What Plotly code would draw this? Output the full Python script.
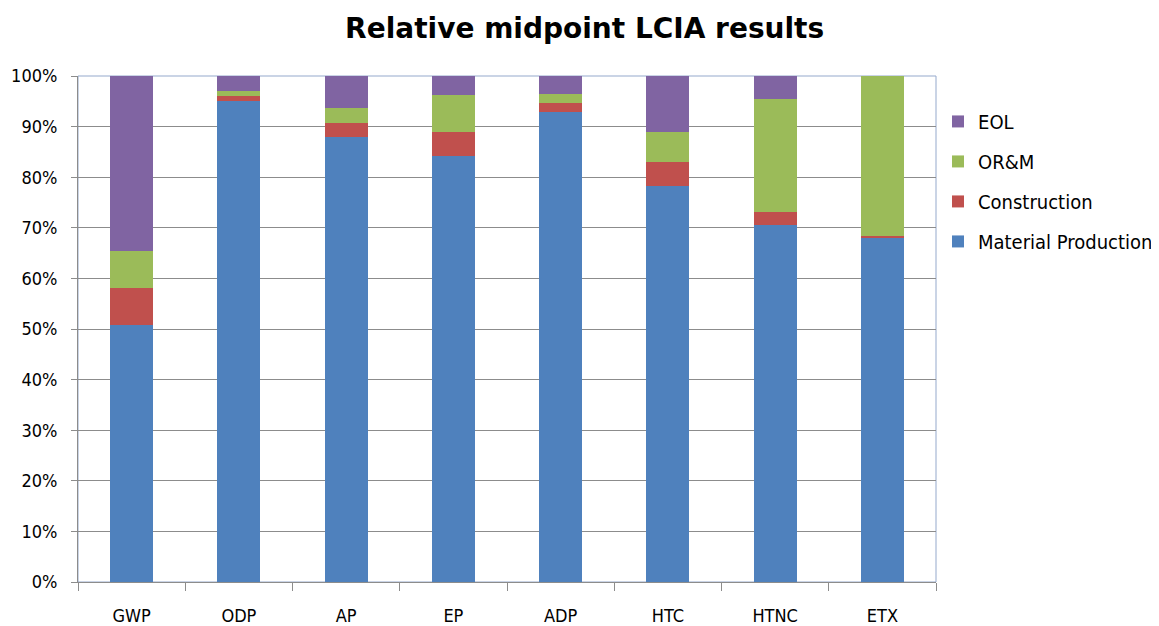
import plotly.graph_objects as go

# impact categories and stage shares (percent of total)
categories = ['GWP', 'ODP', 'AP', 'EP', 'ADP', 'HTC', 'HTNC', 'ETX']
material_production = [50.8, 95.1, 87.9, 84.2, 92.8, 78.3, 70.6, 67.9]
construction = [7.4, 1.0, 2.8, 4.8, 1.8, 4.8, 2.6, 0.4]
orm = [7.3, 0.9, 3.0, 7.3, 1.9, 5.9, 22.3, 31.7]
eol = [34.5, 3.0, 6.3, 3.7, 3.5, 11.0, 4.5, 0.0]

y_ticks = [0, 10, 20, 30, 40, 50, 60, 70, 80, 90, 100]
y_tick_labels = ['{}%'.format(t) for t in y_ticks]

series = [
    ('Material Production', material_production, '#4f81bd'),
    ('Construction', construction, '#c0504d'),
    ('OR&M', orm, '#9bbb59'),
    ('EOL', eol, '#8064a2'),
]

narrow = 'DejaVu Sans Condensed, Liberation Sans Narrow, sans-serif'

fig = go.Figure()
for i, (name, vals, color) in enumerate(series):
    # EOL on top of the legend, like the stack
    fig.add_trace(go.Bar(name=name, x=categories, y=vals, marker_color=color,
                         marker_line_width=0, legendgroup=name,
                         legendrank=len(series) - i))

# page has an 8px body margin, so the figure is a bit smaller than the window
fig.update_layout(
    barmode='stack',
    bargap=0.6,
    width=1151, height=618,
    margin=dict(l=70, r=223, t=68, b=44, autoexpand=False),
    paper_bgcolor='white', plot_bgcolor='white',
    font=dict(family=narrow, color='#000000', size=18),
    title=dict(text='<b>Relative midpoint LCIA results</b>', x=0.501, xanchor='center',
               y=0.968, yanchor='middle',
               font=dict(family='DejaVu Sans, sans-serif', size=28, color='#000000')),
    legend=dict(traceorder='grouped', xref='container', yref='container',
                x=0.808, xanchor='left', y=0.848, yanchor='top',
                font=dict(family=narrow, size=20),
                tracegroupgap=11, itemwidth=30, bgcolor='rgba(0,0,0,0)'),
    showlegend=True,
)

fig.update_yaxes(range=[0, 100], tickvals=y_ticks, ticktext=y_tick_labels,
                 showgrid=True, gridcolor='#8c8c8c', gridwidth=1,
                 showline=True, linecolor='#8c8c8c', ticks='outside', ticklen=6,
                 tickcolor='#8c8c8c', zeroline=False, tickfont=dict(size=18),
                 ticklabelstandoff=10, automargin=False)
fig.update_xaxes(showline=True, linecolor='#8c8c8c', ticks='outside', ticklen=8,
                 tickcolor='#8c8c8c', tickson='boundaries', showgrid=False,
                 ticklabelstandoff=17, tickfont=dict(size=18), automargin=False)

# light blue frame around plot area
fig.add_shape(type='rect', xref='paper', yref='paper', x0=0, y0=0, x1=1, y1=1,
              line=dict(color='#95a9cc', width=1), layer='below')

fig.write_html("out.html")
